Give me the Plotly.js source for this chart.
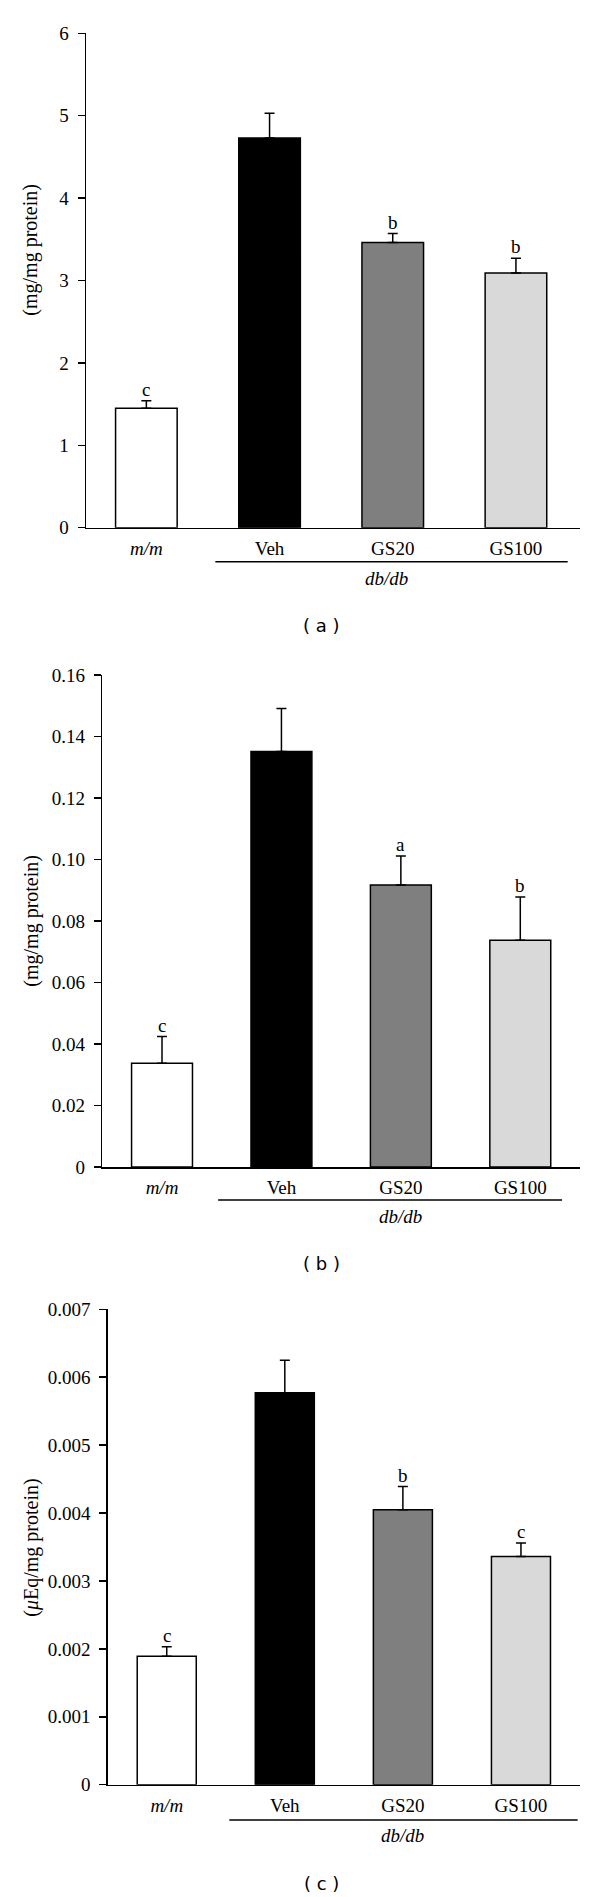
<!DOCTYPE html>
<html>
<head>
<meta charset="utf-8">
<script src="https://cdn.plot.ly/plotly-3.0.1.min.js"></script>
<style>html,body{margin:0;padding:0;background:#fff;}#chart{width:600px;height:1897px;}</style>
</head>
<body>
<div id="chart"></div>
<script>
// ---- data ----
const categories = ["m/m", "Veh", "GS20", "GS100"];
const categoryLabels = ["<i>m/m</i>", "Veh", "GS20", "GS100"];
const barColors = ["#ffffff", "#000000", "#7f7f7f", "#d9d9d9"];

const valuesA = [1.45, 4.73, 3.46, 3.09];
const errorsA = [0.09, 0.30, 0.11, 0.18];
const lettersA = ["c", "", "b", "b"];

const valuesB = [0.0337, 0.1351, 0.0917, 0.0737];
const errorsB = [0.0087, 0.0140, 0.0094, 0.0141];
const lettersB = ["c", "", "a", "b"];

const valuesC = [0.00189, 0.00577, 0.00405, 0.00336];
const errorsC = [0.00014, 0.00048, 0.00034, 0.00020];
const lettersC = ["c", "", "b", "c"];

const ticksA = [0, 1, 2, 3, 4, 5, 6];
const tickTextA = ["0", "1", "2", "3", "4", "5", "6"];
const ticksB = [0, 0.02, 0.04, 0.06, 0.08, 0.10, 0.12, 0.14, 0.16];
const tickTextB = ["0", "0.02", "0.04", "0.06", "0.08", "0.10", "0.12", "0.14", "0.16"];
const ticksC = [0, 0.001, 0.002, 0.003, 0.004, 0.005, 0.006, 0.007];
const tickTextC = ["0", "0.001", "0.002", "0.003", "0.004", "0.005", "0.006", "0.007"];

const yTitles = ["(mg/mg protein)", "(mg/mg protein)", "(<i>μ</i>Eq/mg protein)"];
const groupLabel = "<i>db/db</i>";
const panelLabels = ["( a )", "( b )", "( c )"];

// ---- layout helpers ----
const W = 600, H = 1897;
const py = px => 1 - px / H;
const SERIF = "Liberation Serif, Times New Roman, serif";
const FS = 19;

const panels = [
  {vals: valuesA, errs: errorsA, letters: lettersA, ticks: ticksA, tickText: tickTextA, range: [0, 6],
   xL: 86, xR: 580, yTop: 33.3, yBot: 527.7, xr: [-0.49, 3.52], bw: 0.5,
   titleY: 250, groupY: 579, groupX: 1.95, lineY: 561.7, line: [0.56, 3.42], labelY: 626},
  {vals: valuesB, errs: errorsB, letters: lettersB, ticks: ticksB, tickText: tickTextB, range: [0, 0.16],
   xL: 102.3, xR: 580, yTop: 675, yBot: 1167, xr: [-0.5, 3.5], bw: 0.51,
   titleY: 921, groupY: 1216.7, groupX: 2.0, lineY: 1200, line: [0.47, 3.35], labelY: 1263},
  {vals: valuesC, errs: errorsC, letters: lettersC, ticks: ticksC, tickText: tickTextC, range: [0, 0.007],
   xL: 107.7, xR: 580, yTop: 1309.3, yBot: 1784.7, xr: [-0.5, 3.5], bw: 0.5,
   titleY: 1548, groupY: 1835, groupX: 2.0, lineY: 1820, line: [0.53, 3.48], labelY: 1883}
];

const traces = [];
const annotations = [];
const shapes = [];
const layout = {
  width: W, height: H,
  margin: {l: 0, r: 0, t: 0, b: 0},
  paper_bgcolor: "#ffffff", plot_bgcolor: "#ffffff",
  showlegend: false,
  font: {family: SERIF, size: FS, color: "#000"}
};

panels.forEach((p, i) => {
  const n = i === 0 ? "" : String(i + 1);
  const xa = "x" + n, ya = "y" + n;
  traces.push({
    type: "bar", x: categories, y: p.vals, xaxis: xa, yaxis: ya,
    width: p.bw,
    marker: {color: barColors, line: {color: "#000", width: 1.5}},
    error_y: {type: "data", symmetric: false, array: p.errs, arrayminus: p.errs.map(() => 0),
              color: "#000", thickness: 1.5, width: 5},
    hoverinfo: "skip"
  });
  layout["xaxis" + n] = {
    domain: [p.xL / W, p.xR / W], anchor: ya, type: "category",
    range: p.xr, showline: true, linecolor: "#000", linewidth: 1.5,
    ticks: "", showgrid: false, zeroline: false,
    tickvals: categories, ticktext: categoryLabels,
    tickfont: {family: SERIF, size: FS, color: "#000"}, ticklabelstandoff: 3
  };
  layout["yaxis" + n] = {
    domain: [py(p.yBot), py(p.yTop)], anchor: xa, range: p.range,
    showline: true, linecolor: "#000", linewidth: 1.5,
    ticks: "outside", ticklen: 7, tickwidth: 1.5, tickcolor: "#000",
    tickvals: p.ticks, ticktext: p.tickText,
    showgrid: false, zeroline: false,
    tickfont: {family: SERIF, size: FS, color: "#000"}, ticklabelstandoff: 5
  };
  // significance letters
  p.letters.forEach((l, j) => {
    if (!l) return;
    annotations.push({xref: xa, yref: ya, x: categories[j], y: p.vals[j] + p.errs[j],
      text: l, showarrow: false, yanchor: "bottom", yshift: -1,
      font: {family: SERIF, size: FS, color: "#000"}});
  });
  // y title
  annotations.push({xref: "paper", yref: "paper", x: 30.7 / W, y: py(p.titleY),
    text: yTitles[i], textangle: -90, showarrow: false, xanchor: "center", yanchor: "middle",
    font: {family: SERIF, size: 20, color: "#000"}});
  // group label
  annotations.push({xref: xa, yref: "paper", x: p.groupX, y: py(p.groupY),
    text: groupLabel, showarrow: false, yanchor: "middle",
    font: {family: SERIF, size: FS, color: "#000"}});
  // panel label
  annotations.push({xref: "paper", yref: "paper", x: 321 / W, y: py(p.labelY),
    text: panelLabels[i], showarrow: false, yanchor: "middle",
    font: {family: "DejaVu Sans, sans-serif", size: 18, color: "#000"}});
  shapes.push({type: "line", xref: xa, yref: "paper", x0: p.line[0], x1: p.line[1],
    y0: py(p.lineY), y1: py(p.lineY), line: {color: "#000", width: 1.5}});
});

layout.annotations = annotations;
layout.shapes = shapes;

Plotly.newPlot("chart", traces, layout, {staticPlot: true, displayModeBar: false});
</script>
</body>
</html>
